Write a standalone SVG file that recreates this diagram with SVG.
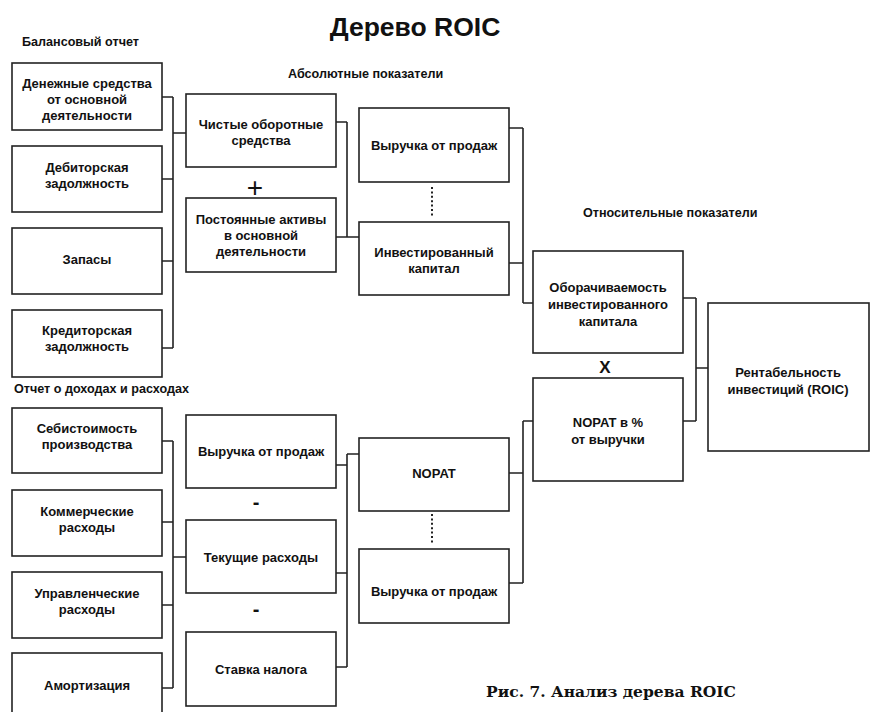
<svg xmlns="http://www.w3.org/2000/svg" width="872" height="712" viewBox="0 0 872 712">
<style>
.box{fill:#fff;stroke:#222;stroke-width:1.6}
.t{font-family:"Liberation Sans",Arial,sans-serif;font-weight:bold;font-size:13px;fill:#111;text-anchor:middle}
.h{font-family:"Liberation Sans",Arial,sans-serif;font-weight:bold;font-size:12.6px;fill:#111}
.c{fill:none;stroke:#222;stroke-width:1.6}
.d{fill:none;stroke:#222;stroke-width:2;stroke-dasharray:2 2.4}
.s{font-family:"Liberation Sans",Arial,sans-serif;fill:#111;text-anchor:middle}
</style>
<rect width="872" height="712" fill="#fff"/>
<text x="415" y="36" class="s" style="font-size:26.5px;font-weight:bold">Дерево ROIC</text>
<text x="22" y="46" class="h">Балансовый отчет</text>
<text x="288" y="78" class="h">Абсолютные показатели</text>
<text x="583" y="217" class="h">Относительные показатели</text>
<text x="14" y="393" class="h">Отчет о доходах и расходах</text>
<text x="611" y="697" style="font-family:'DejaVu Serif','Liberation Serif',serif;font-weight:bold;font-size:15.5px;fill:#111;text-anchor:middle">Рис. 7. Анализ дерева ROIC</text>

<g id="connectors">
<path class="c" d="M162 97H173M162 179H173M162 261H173M162 348H173M173 97V348M173 133H186"/>
<path class="c" d="M336 122H347M336 237H347M347 122V237M347 237H359"/>
<path class="c" d="M509 128H523M509 263H523M523 128V303M523 303H533"/>
<path class="c" d="M683 298H696M683 421H696M696 298V421M696 368H708"/>
<path class="c" d="M509 473H523M509 583H523M523 421V583M523 421H533"/>
<path class="c" d="M336 465H347M336 573H347M336 667H347M347 454V667M347 454H359"/>
<path class="c" d="M162 441H173M162 522H173M162 605H173M162 688H173M173 441V688M173 557H186"/>
<path class="d" d="M432 187V216"/>
<path class="d" d="M432 514V544"/>
</g>

<g id="ops">
<text x="255" y="197" class="s" style="font-size:28px">+</text>
<text x="605" y="373" class="s" style="font-size:17px;font-weight:bold">X</text>
<text x="256" y="509" class="s" style="font-size:20px;font-weight:bold">-</text>
<text x="256" y="616" class="s" style="font-size:20px;font-weight:bold">-</text>
</g>

<g id="n_cash"><rect class="box" x="12" y="63" width="150" height="67"/><text class="t" x="87"><tspan x="87" y="88">Денежные средства</tspan><tspan x="87" y="104">от основной</tspan><tspan x="87" y="120">деятельности</tspan></text></g>
<g id="n_receivables"><rect class="box" x="12" y="146" width="150" height="66"/><text class="t"><tspan x="87" y="172">Дебиторская</tspan><tspan x="87" y="188">задолжность</tspan></text></g>
<g id="n_inventory"><rect class="box" x="12" y="228" width="150" height="66"/><text class="t" x="87" y="264">Запасы</text></g>
<g id="n_payables"><rect class="box" x="12" y="310" width="150" height="67"/><text class="t"><tspan x="87" y="335">Кредиторская</tspan><tspan x="87" y="351">задолжность</tspan></text></g>
<g id="n_cogs"><rect class="box" x="12" y="408" width="150" height="65"/><text class="t"><tspan x="87" y="433">Себистоимость</tspan><tspan x="87" y="449">производства</tspan></text></g>
<g id="n_selling"><rect class="box" x="12" y="490" width="150" height="66"/><text class="t"><tspan x="87" y="516">Коммерческие</tspan><tspan x="87" y="532">расходы</tspan></text></g>
<g id="n_admin"><rect class="box" x="12" y="572" width="150" height="66"/><text class="t"><tspan x="87" y="598">Управленческие</tspan><tspan x="87" y="614">расходы</tspan></text></g>
<g id="n_amort"><rect class="box" x="12" y="653" width="150" height="66"/><text class="t" x="87" y="690">Амортизация</text></g>

<g id="n_nwc"><rect class="box" x="186" y="94" width="150" height="73"/><text class="t"><tspan x="261" y="129">Чистые оборотные</tspan><tspan x="261" y="145">средства</tspan></text></g>
<g id="n_fixed"><rect class="box" x="186" y="198" width="150" height="74"/><text class="t"><tspan x="261" y="224">Постоянные активы</tspan><tspan x="261" y="240">в основной</tspan><tspan x="261" y="256">деятельности</tspan></text></g>
<g id="n_rev1"><rect class="box" x="186" y="415" width="150" height="73"/><text class="t" x="261" y="456">Выручка от продаж</text></g>
<g id="n_opex"><rect class="box" x="186" y="520" width="150" height="73"/><text class="t" x="261" y="562">Текущие расходы</text></g>
<g id="n_tax"><rect class="box" x="186" y="632" width="150" height="74"/><text class="t" x="261" y="674">Ставка налога</text></g>

<g id="n_rev2"><rect class="box" x="359" y="108" width="150" height="74"/><text class="t" x="434" y="150">Выручка от продаж</text></g>
<g id="n_ic"><rect class="box" x="359" y="222" width="150" height="73"/><text class="t"><tspan x="434" y="257">Инвестированный</tspan><tspan x="434" y="273">капитал</tspan></text></g>
<g id="n_nopat"><rect class="box" x="359" y="438" width="150" height="73"/><text class="t" x="434" y="478">NOPAT</text></g>
<g id="n_rev3"><rect class="box" x="359" y="549" width="150" height="74"/><text class="t" x="434" y="596">Выручка от продаж</text></g>

<g id="n_turnover"><rect class="box" x="533" y="251" width="150" height="102"/><text class="t"><tspan x="608" y="292">Оборачиваемость</tspan><tspan x="608" y="309">инвестированного</tspan><tspan x="608" y="326">капитала</tspan></text></g>
<g id="n_margin"><rect class="box" x="533" y="378" width="150" height="103"/><text class="t"><tspan x="608" y="427">NOPAT в %</tspan><tspan x="608" y="444">от выручки</tspan></text></g>
<g id="n_roic"><rect class="box" x="708" y="303" width="161" height="148"/><text class="t"><tspan x="788" y="377">Рентабельность</tspan><tspan x="788" y="394">инвестиций (ROIC)</tspan></text></g>
</svg>
